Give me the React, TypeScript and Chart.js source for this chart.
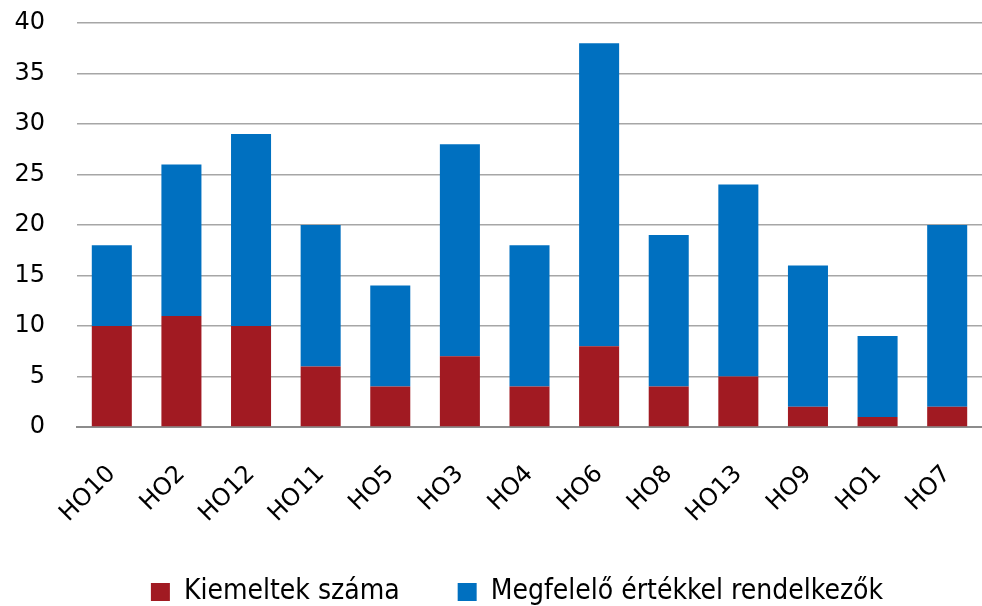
import React, { useEffect, useRef } from "react";
import { Chart, registerables } from "chart.js";

Chart.register(...registerables);

const categories = ["HO10", "HO2", "HO12", "HO11", "HO5", "HO3", "HO4", "HO6", "HO8", "HO13", "HO9", "HO1", "HO7"];
const kiemeltek = [10, 11, 10, 6, 4, 7, 4, 8, 4, 5, 2, 1, 2];
const megfelelo = [8, 15, 19, 14, 10, 21, 14, 30, 15, 19, 14, 8, 18];
const seriesNames = ["Kiemeltek száma", "Megfelelő értékkel rendelkezők"];

const legendShift = {
  id: "legendShift",
  afterLayout(chart: any) {
    if (chart.legend) {
      chart.legend.left += 26;
      chart.legend.right += 26;
      chart.legend.top += 10;
      chart.legend.bottom += 10;
    }
  },
};

export default function App() {
  const ref = useRef<HTMLCanvasElement>(null);
  useEffect(() => {
    document.body.style.margin = "0";
    const chart = new Chart(ref.current!, {
      type: "bar",
      data: {
        labels: categories,
        datasets: [
          { label: seriesNames[0] + "       ", data: kiemeltek, backgroundColor: "#A11A22", barPercentage: 0.575, categoryPercentage: 1 },
          { label: seriesNames[1], data: megfelelo, backgroundColor: "#0070C0", barPercentage: 0.575, categoryPercentage: 1 },
        ],
      },
      plugins: [legendShift],
      options: {
        animation: false,
        responsive: false,
        maintainAspectRatio: false,
        layout: { padding: { top: 23, right: 0, bottom: 0, left: 0 } },
        plugins: {
          tooltip: { enabled: false },
          legend: {
            position: "bottom",
            labels: {
              boxWidth: 19,
              boxHeight: 18,
              padding: 2,
              color: "#000",
              font: { family: "'DejaVu Sans Condensed', 'DejaVu Sans'", size: 28 },
            },
          },
        },
        scales: {
          x: {
            stacked: true,
            afterFit: (s: any) => { s.height = 139; s.paddingRight = 0; s.paddingLeft = 0; },
            grid: { display: false, drawTicks: false },
            border: { display: true, color: "#8c8c8c", width: 2 },
            ticks: {
              color: "#000",
              maxRotation: 45,
              minRotation: 45,
              padding: 33,
              font: { family: "'DejaVu Sans'", size: 24 },
            },
          },
          y: {
            stacked: true,
            min: 0,
            max: 40,
            afterFit: (s: any) => { s.width = 77; s.paddingTop = 0; s.paddingBottom = 0; },
            grid: { color: "#a6a6a6", lineWidth: 1.5, drawTicks: false },
            border: { display: false },
            ticks: {
              stepSize: 5,
              color: "#000",
              padding: 32,
              font: { family: "'DejaVu Sans'", size: 24 },
            },
          },
        },
      },
    });
    return () => chart.destroy();
  }, []);
  return (
    <div style={{ position: "absolute", left: 0, top: 0, width: 982, height: 606 }}>
      <canvas ref={ref} width={982} height={606} style={{ width: 982, height: 606 }} />
    </div>
  );
}
